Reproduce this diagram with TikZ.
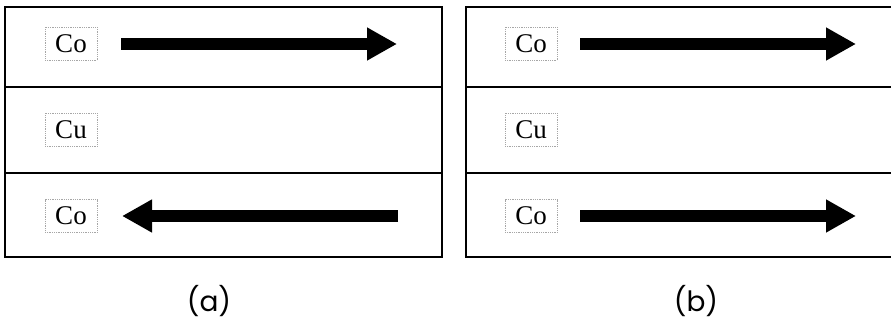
\documentclass[tikz,border=0pt]{standalone}
\usepackage{fontspec}
\setmainfont{Liberation Serif}
\newfontfamily\capfont{Poppins}
\usetikzlibrary{arrows.meta}
\begin{document}
\begin{tikzpicture}[x=1pt,y=-1pt,
  frame/.style={line width=2.2pt, draw=black},
  lbl/.style={draw=gray!70, densely dotted, line width=0.8pt, minimum width=52pt, minimum height=33pt, inner sep=0pt, font=\fontsize{27}{27}\selectfont},
  bigarrow/.style={line width=12pt, -{Triangle[width=31pt,length=30pt]}},
  capt/.style={font=\capfont\fontsize{28}{28}\selectfont}]
\useasboundingbox (0,0) rectangle (891,326);
\clip (0,0) rectangle (891,326);
% left frame (a)
\draw[frame] (5,7) rectangle (442,257);
\draw[frame] (5,87) -- (442,87);
\draw[frame] (5,173) -- (442,173);
% right frame (b)
\draw[frame] (466,7) rectangle (900,257);
\draw[frame] (466,87) -- (900,87);
\draw[frame] (466,173) -- (900,173);
% labels (a)
\node[lbl] (a1) at (71,44) {Co};
\node[lbl] (a2) at (71,130) {Cu};
\node[lbl] (a3) at (71,216) {Co};
% labels (b)
\node[lbl] (b1) at (531,44) {Co};
\node[lbl] (b2) at (531,130) {Cu};
\node[lbl] (b3) at (531,216) {Co};
% arrow end points
\coordinate (a1s) at (121,44);
\coordinate (a1e) at (397,44);
\coordinate (a3s) at (398,216);
\coordinate (a3e) at (122,216);
\coordinate (b1s) at (580,44);
\coordinate (b1e) at (856,44);
\coordinate (b3s) at (580,216);
\coordinate (b3e) at (856,216);
\draw[bigarrow] (a1s) -- (a1e);
\draw[bigarrow] (a3s) -- (a3e);
\draw[bigarrow] (b1s) -- (b1e);
\draw[bigarrow] (b3s) -- (b3e);
% captions
\node[capt] (capa) at (209,301) {(a)};
\node[capt] (capb) at (696,301) {(b)};
\end{tikzpicture}
\end{document}
